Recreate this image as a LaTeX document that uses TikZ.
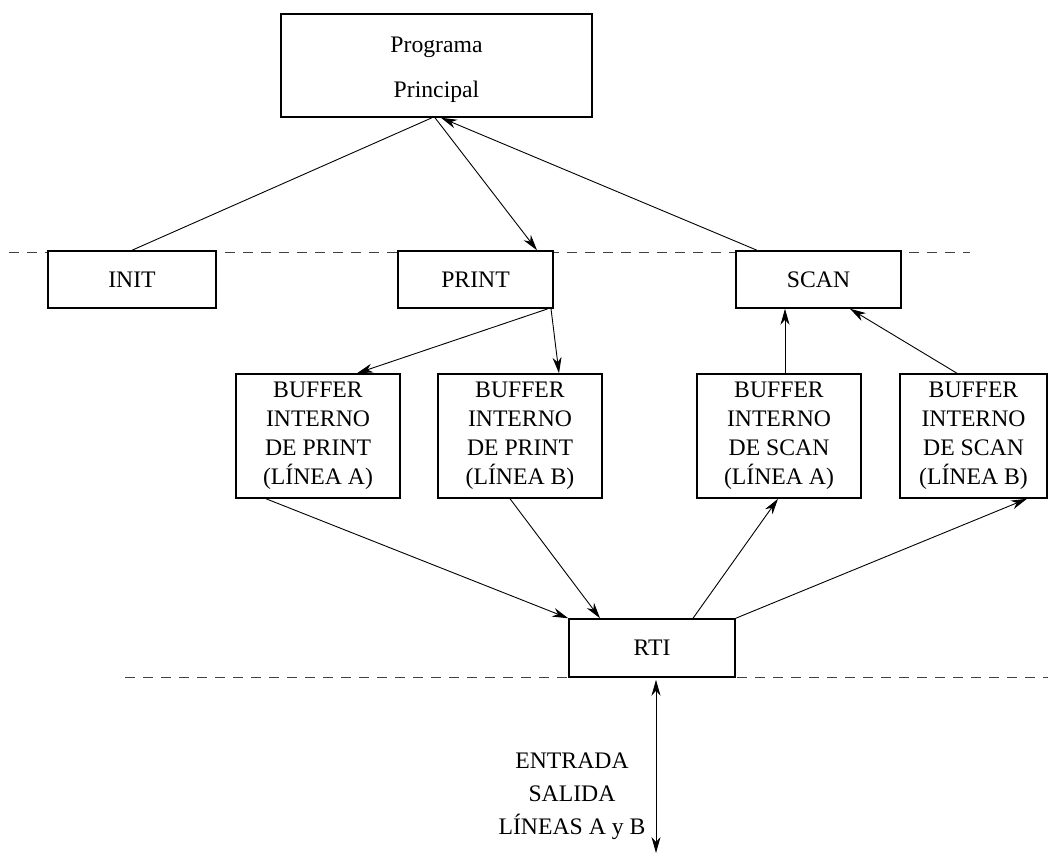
\documentclass[tikz,border=0pt]{standalone}
\usepackage{fontspec}
\setmainfont{Liberation Serif}
\usetikzlibrary{arrows.meta,calc}
\begin{document}
\begin{tikzpicture}[x=1pt,y=-1pt,
  txt/.style={inner sep=0pt,align=center,font=\fontsize{23.7}{29}\selectfont},
  box/.style={draw,line width=1.5pt,fill=white,txt},
  conn/.style={line width=0.9pt},
  tip/.tip={Stealth[length=16pt,width=9pt,inset=5pt]},
  arr/.style={conn,-tip},
  sep/.style={dashed,dash pattern=on 10pt off 8pt,line width=0.9pt,black!75}]
\useasboundingbox (0,0) rectangle (1048,857);
% dashed separators
\coordinate (d1a) at (9,252);
\coordinate (d1b) at (970,252);
\coordinate (d2a) at (125,677);
\coordinate (d2b) at (1048,677);
\draw[sep] (d1a) -- (d1b);
\draw[sep] (d2a) -- (d2b);
% boxes
\node[box,minimum width=311pt,minimum height=103pt] (prog) at (436.5,65.5) {};
\node[txt] (progtext) at (436.5,70) {Programa\\[16pt]Principal};
\node[box,minimum width=168pt,minimum height=57pt] (init) at (132,279.5) {INIT};
\node[box,minimum width=155pt,minimum height=57pt] (print) at (475.5,279.5) {PRINT};
\node[box,minimum width=165pt,minimum height=57pt] (scan) at (818.5,279.5) {SCAN};
\node[box,minimum width=164pt,minimum height=124pt] (bpa) at (318,436) {BUFFER\\INTERNO\\DE PRINT\\(LÍNEA A)};
\node[box,minimum width=164pt,minimum height=124pt] (bpb) at (520,436) {BUFFER\\INTERNO\\DE PRINT\\(LÍNEA B)};
\node[box,minimum width=164pt,minimum height=124pt] (bsa) at (779,436) {BUFFER\\INTERNO\\DE SCAN\\(LÍNEA A)};
\node[box,minimum width=147pt,minimum height=124pt] (bsb) at (973.5,436) {BUFFER\\INTERNO\\DE SCAN\\(LÍNEA B)};
\node[box,minimum width=166pt,minimum height=58pt] (rti) at (652,648) {RTI};
\node[txt,font=\fontsize{23.7}{33}\selectfont] (io) at (572,796) {ENTRADA\\SALIDA\\LÍNEAS A y B};
\coordinate (ioend) at (656,853);
% connectors
\draw[conn] (init.north) -- ([xshift=-4.5pt]prog.south);
\draw[arr] ([xshift=-1.5pt]prog.south) -- ([xshift=61.5pt]print.north);
\draw[arr] ([xshift=-61.5pt]scan.north) -- ([xshift=4.5pt]prog.south);
\draw[arr] ([xshift=72.5pt]print.south) -- ([xshift=39pt]bpa.north);
\draw[arr] ([xshift=75.5pt]print.south) -- ([xshift=39pt]bpb.north);
\draw[arr] ([xshift=6pt]bsa.north) -- ([xshift=-33.5pt]scan.south);
\draw[arr] ([xshift=-16.5pt]bsb.north) -- ([xshift=31.5pt]scan.south);
\draw[arr] ([xshift=-52pt]bpa.south) -- (rti.north west);
\draw[arr] ([xshift=-10pt]bpb.south) -- ([xshift=-52pt]rti.north);
\draw[arr] ([xshift=41pt]rti.north) -- ([xshift=-1pt]bsa.south);
\draw[arr] (rti.north east) -- ([xshift=53.5pt]bsb.south);
\draw[conn,tip-tip] ([xshift=4pt,yshift=-2pt]rti.south) -- (ioend);
\end{tikzpicture}
\end{document}
